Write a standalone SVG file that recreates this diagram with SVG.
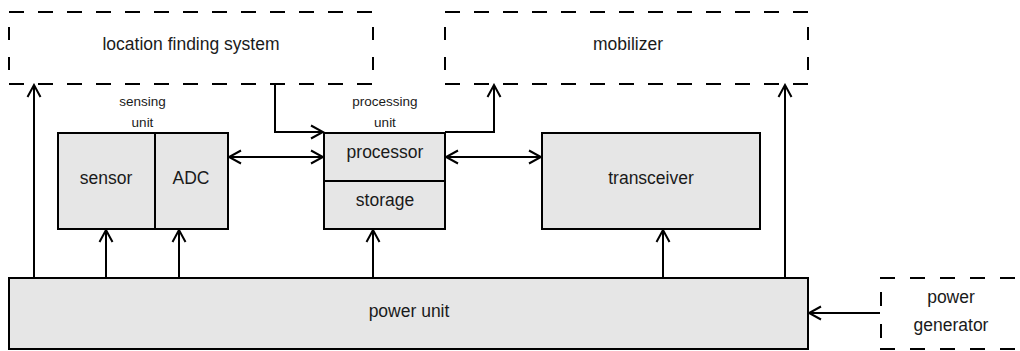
<svg xmlns="http://www.w3.org/2000/svg" width="1020" height="351" viewBox="0 0 1020 351">
  <style>
    .box { fill: #e6e6e6; stroke: #000; stroke-width: 2; }
    .dash { fill: none; stroke: #000; stroke-width: 2; }
    .wire { fill: none; stroke: #000; stroke-width: 2; }
    .lbl { font-family: "Liberation Sans", Arial, sans-serif; font-size: 17.5px; fill: #1a1a1a; text-anchor: middle; }
    .small { font-family: "Liberation Sans", Arial, sans-serif; font-size: 13.5px; fill: #1a1a1a; text-anchor: middle; }
  </style>
  <defs>
    <marker id="open" viewBox="-14 -8 16 16" refX="0" refY="0" markerWidth="16" markerHeight="16" markerUnits="userSpaceOnUse" orient="auto-start-reverse">
      <path d="M-12,-6.5 L0,0 L-12,6.5" fill="none" stroke="#000" stroke-width="2"/>
    </marker>
  </defs>
  <rect width="1020" height="351" fill="#fff"/>

  <!-- external: location finding system -->
  <g id="location">
    <line class="dash" x1="9" y1="12" x2="373" y2="12" stroke-dasharray="15 14"/>
    <line class="dash" x1="9" y1="84" x2="373" y2="84" stroke-dasharray="15 14"/>
    <line class="dash" x1="9" y1="27" x2="9" y2="71" stroke-dasharray="13 17"/>
    <line class="dash" x1="373" y1="27" x2="373" y2="71" stroke-dasharray="13 17"/>
    <text class="lbl" x="191" y="50">location finding system</text>
  </g>

  <!-- external: mobilizer -->
  <g id="mobilizer">
    <line class="dash" x1="445" y1="12" x2="809" y2="12" stroke-dasharray="15 14"/>
    <line class="dash" x1="445" y1="84" x2="809" y2="84" stroke-dasharray="15 14"/>
    <line class="dash" x1="445" y1="27" x2="445" y2="71" stroke-dasharray="13 17"/>
    <line class="dash" x1="808" y1="27" x2="808" y2="71" stroke-dasharray="13 17"/>
    <text class="lbl" x="628" y="50">mobilizer</text>
  </g>

  <!-- sensing unit -->
  <g id="sensing-unit">
    <text class="small" x="142.5" y="106">sensing</text>
    <text class="small" x="142.5" y="127">unit</text>
    <rect class="box" x="58" y="133" width="97" height="96"/>
    <rect class="box" x="155" y="133" width="73" height="96"/>
    <text class="lbl" x="106" y="184">sensor</text>
    <text class="lbl" x="191" y="184">ADC</text>
  </g>

  <!-- processing unit -->
  <g id="processing-unit">
    <text class="small" x="385" y="106">processing</text>
    <text class="small" x="385" y="127">unit</text>
    <rect class="box" x="324" y="133" width="121" height="48"/>
    <rect class="box" x="324" y="181" width="121" height="48"/>
    <text class="lbl" x="385" y="158">processor</text>
    <text class="lbl" x="385" y="206">storage</text>
  </g>

  <!-- transceiver -->
  <g id="transceiver">
    <rect class="box" x="542" y="133" width="218" height="96"/>
    <text class="lbl" x="651" y="184">transceiver</text>
  </g>

  <!-- power unit -->
  <g id="power-unit">
    <rect class="box" x="9" y="278" width="799" height="71"/>
    <text class="lbl" x="409" y="317">power unit</text>
  </g>

  <!-- power generator (external) -->
  <g id="power-generator">
    <line class="dash" x1="880" y1="278" x2="1020" y2="278" stroke-dasharray="15 15"/>
    <line class="dash" x1="880" y1="349" x2="1020" y2="349" stroke-dasharray="15 15"/>
    <line class="dash" x1="881" y1="292" x2="881" y2="338" stroke-dasharray="14 18"/>
    <text class="lbl" x="951" y="303">power</text>
    <text class="lbl" x="951" y="331">generator</text>
  </g>

  <!-- connectors -->
  <g id="connectors" class="wire">
    <path class="wire" d="M34,277 V85" marker-end="url(#open)"/>
    <path class="wire" d="M275,84 V132 H323" marker-end="url(#open)"/>
    <path class="wire" d="M445,132 H494 V85" marker-end="url(#open)"/>
    <path class="wire" d="M785,277 V85" marker-end="url(#open)"/>
    <path class="wire" d="M229,157 H323" marker-start="url(#open)" marker-end="url(#open)"/>
    <path class="wire" d="M446,157 H541" marker-start="url(#open)" marker-end="url(#open)"/>
    <path class="wire" d="M106,277 V230" marker-end="url(#open)"/>
    <path class="wire" d="M179,277 V230" marker-end="url(#open)"/>
    <path class="wire" d="M373,277 V230" marker-end="url(#open)"/>
    <path class="wire" d="M663,277 V230" marker-end="url(#open)"/>
    <path class="wire" d="M880,313 H809" marker-end="url(#open)"/>
  </g>
</svg>
